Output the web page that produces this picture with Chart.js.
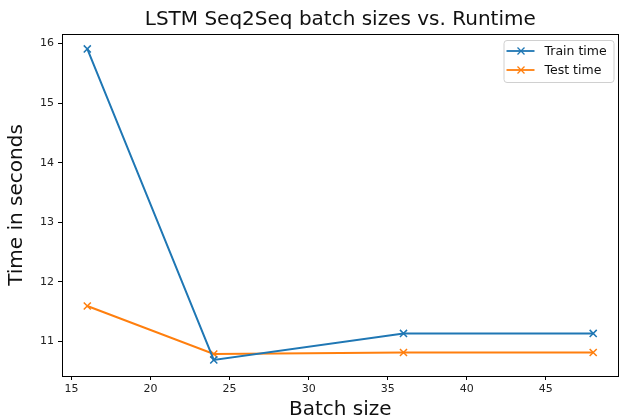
<!DOCTYPE html>
<html>
<head>
<meta charset="utf-8">
<script src="https://cdn.jsdelivr.net/npm/chart.js@4.4.0/dist/chart.umd.min.js"></script>
<style>
  html, body { margin: 0; padding: 0; background: #fff; }
  #wrap { width: 625px; height: 420px; }
</style>
</head>
<body>
<div id="wrap"><canvas id="myChart"></canvas></div>
<script>
const batchSizes = [16, 24, 36, 48];
const trainTime = [15.91, 10.69, 11.135, 11.135];
const testTime = [11.595, 10.79, 10.815, 10.815];
const xTicks = [15, 20, 25, 30, 35, 40, 45];
const yTicks = [11, 12, 13, 14, 15, 16];
const chartTitle = 'LSTM Seq2Seq batch sizes vs. Runtime';

const toPoints = (xs, ys) => xs.map((x, i) => ({x: x, y: ys[i]}));

// box round the plot, like matplotlib spines, plus the title centred on the plot
const frame = {
    id: 'frame',
    afterDatasetsDraw(chart) {
        const {ctx, chartArea: a} = chart;
        ctx.save();
        ctx.strokeStyle = '#000';
        ctx.lineWidth = 1;
        ctx.strokeRect(Math.round(a.left) + 0.5, Math.round(a.top) + 0.5,
            Math.round(a.right - a.left) - 1, Math.round(a.bottom - a.top));
        ctx.fillStyle = '#111';
        ctx.font = '20px "DejaVu Sans"';
        ctx.textAlign = 'center';
        ctx.textBaseline = 'alphabetic';
        ctx.fillText(chartTitle, (a.left + a.right) / 2, 25);
        ctx.restore();
    }
};

// legend drawn inside the plot, upper right
const innerLegend = {
    id: 'innerLegend',
    afterDatasetsDraw(chart) {
        const {ctx, chartArea: a} = chart;
        const sets = chart.data.datasets;
        const w = 110, h = 42;
        const x0 = a.right - w - 5, y0 = a.top + 6;
        ctx.save();
        ctx.fillStyle = 'rgba(255,255,255,0.8)';
        ctx.strokeStyle = '#d0d0d0';
        ctx.lineWidth = 1;
        ctx.beginPath();
        ctx.roundRect(x0 + 0.5, y0 + 0.5, w, h, 3);
        ctx.fill();
        ctx.stroke();
        ctx.font = '12.5px "DejaVu Sans"';
        ctx.textBaseline = 'middle';
        sets.forEach((ds, i) => {
            const y = y0 + 11 + i * 19;
            ctx.strokeStyle = ds.borderColor;
            ctx.lineWidth = 1.8;
            ctx.beginPath();
            ctx.moveTo(x0 + 3, y);
            ctx.lineTo(x0 + 31, y);
            ctx.stroke();
            ctx.lineWidth = 1.3;
            ctx.beginPath();
            ctx.moveTo(x0 + 14, y - 3.5); ctx.lineTo(x0 + 21, y + 3.5);
            ctx.moveTo(x0 + 14, y + 3.5); ctx.lineTo(x0 + 21, y - 3.5);
            ctx.stroke();
            ctx.fillStyle = '#111';
            ctx.fillText(ds.label, x0 + 41, y + 0.5);
        });
        ctx.restore();
    }
};

const axisFont = {family: 'DejaVu Sans', size: 20, lineHeight: 1};
const tickFont = {family: 'DejaVu Sans', size: 11};

const chart = new Chart(document.getElementById('myChart'), {
    type: 'line',
    data: {
        datasets: [
            {
                label: 'Train time',
                data: toPoints(batchSizes, trainTime),
                borderColor: '#1f77b4',
                backgroundColor: '#1f77b4',
                borderWidth: 2,
                pointStyle: 'crossRot',
                pointRadius: 5,
                pointBorderWidth: 1.5,
                tension: 0
            },
            {
                label: 'Test time',
                data: toPoints(batchSizes, testTime),
                borderColor: '#ff7f0e',
                backgroundColor: '#ff7f0e',
                borderWidth: 2,
                pointStyle: 'crossRot',
                pointRadius: 5,
                pointBorderWidth: 1.5,
                tension: 0
            }
        ]
    },
    options: {
        responsive: true,
        maintainAspectRatio: false,
        animation: false,
        layout: {
            padding: {top: 34, right: 3, bottom: 0, left: 0}
        },
        plugins: {
            legend: {display: false},
            tooltip: {enabled: false},
            title: {display: false}
        },
        scales: {
            x: {
                type: 'linear',
                min: 14.4,
                max: 49.6,
                afterBuildTicks: (axis) => { axis.ticks = xTicks.map(v => ({value: v})); },
                afterFit: (axis) => { axis.height = 44; },
                border: {color: '#000', width: 1},
                grid: {drawOnChartArea: false, drawTicks: true, tickLength: 4, color: '#000'},
                ticks: {font: tickFont, color: '#222', padding: 3, maxRotation: 0},
                title: {display: true, text: 'Batch size', font: axisFont, color: '#111', padding: {top: 0, bottom: 0}}
            },
            y: {
                min: 10.42,
                max: 16.16,
                afterBuildTicks: (axis) => { axis.ticks = yTicks.map(v => ({value: v})); },
                afterFit: (axis) => { axis.width = 62; },
                border: {color: '#000', width: 1},
                grid: {drawOnChartArea: false, drawTicks: true, tickLength: 4, color: '#000'},
                ticks: {font: tickFont, color: '#222', padding: 4},
                title: {display: true, text: 'Time in seconds', font: axisFont, color: '#111', padding: {top: 7, bottom: 0}}
            }
        }
    },
    plugins: [frame, innerLegend]
});
</script>
</body>
</html>
